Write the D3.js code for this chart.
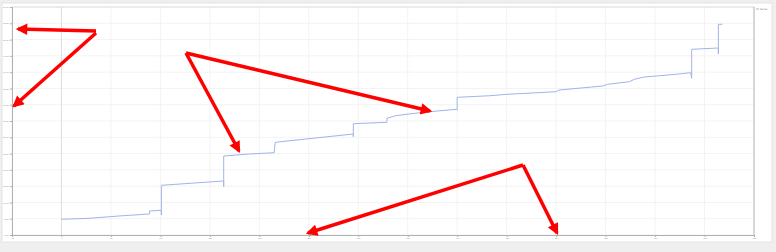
<!DOCTYPE html>
<html>
<head>
<meta charset="utf-8">
<script src="https://cdn.jsdelivr.net/npm/d3@7"></script>
<style>
  body { margin: 0; background: #efefef; }
  svg { display: block; font-family: "DejaVu Sans", sans-serif; }
</style>
</head>
<body>
<div id="chart"></div>
<script>
// step series: [index, value] break points
var seriesX = [0, 28, 58, 89, 89, 101, 101, 101, 164, 164, 164, 190, 215, 216, 295, 295, 295, 329, 329, 338, 357, 369, 399, 400, 400, 433, 450, 500, 503, 547, 552, 574, 579, 589, 621, 636, 637, 637, 664, 664, 664, 668];
var seriesY = [9482, 9513, 9583, 9645, 9737, 9758, 9614, 10526, 10658, 10483, 11425, 11487, 11527, 11846, 12101, 12018, 12417, 12460, 12583, 12663, 12736, 12776, 12859, 12838, 13227, 13276, 13319, 13399, 13451, 13574, 13626, 13706, 13780, 13850, 13933, 13983, 13811, 14701, 14741, 14557, 15468, 15468];
var xTicks = [-50, 0, 50, 100, 150, 200, 250, 300, 350, 400, 450, 500, 550, 600, 650, 700];
var yTicks = [9000, 9500, 10000, 10500, 11000, 11500, 12000, 12500, 13000, 13500, 14000, 14500, 15000, 15500, 16000];
var seriesName = "Series";
// red annotation arrows drawn over the screenshot: [x1, y1, x2, y2]
var arrows = [[96, 31, 18, 29], [96, 33, 14, 106], [186, 53, 239, 151], [186, 53, 430, 111], [523, 165, 308, 233], [523, 165, 557, 233]];

var width = 776, height = 252;
var margin = {left: 12, right: 22, top: 7, bottom: 17};

var svg = d3.select('#chart').append('svg')
    .attr('width', width)
    .attr('height', height);

svg.append('rect')
    .attr('x', 2).attr('y', 3)
    .attr('width', 770).attr('height', 239)
    .attr('fill', '#fff')
    .attr('stroke', '#e4e4e4');

var x = d3.scaleLinear().domain([-50, 700]).range([margin.left, width - margin.right]),
    y = d3.scaleLinear().domain([9000, 16000]).range([height - margin.bottom, margin.top]);

// grid
svg.append('g').selectAll('line')
    .data(yTicks)
    .enter().append('line')
      .attr('x1', x(-50)).attr('x2', x(700))
      .attr('y1', function(d) { return y(d); })
      .attr('y2', function(d) { return y(d); })
      .attr('stroke', '#f3f3f3');

svg.append('g').selectAll('line')
    .data(xTicks)
    .enter().append('line')
      .attr('x1', function(d) { return x(d); })
      .attr('x2', function(d) { return x(d); })
      .attr('y1', y(9000)).attr('y2', y(16000))
      .attr('stroke', function(d) { return d == 0 ? '#dedede' : '#f3f3f3'; });

// frame
svg.append('line')
    .attr('x1', x(-50)).attr('x2', x(700)).attr('y1', y(16000)).attr('y2', y(16000))
    .attr('stroke', '#dddddd');
svg.append('line')
    .attr('x1', x(700)).attr('x2', x(700)).attr('y1', y(16000)).attr('y2', y(9000))
    .attr('stroke', '#b5b5b5');

var xAxis = svg.append('g')
    .attr('transform', 'translate(0,' + y(9000) + ')')
    .call(d3.axisBottom(x).tickValues(xTicks).tickSize(2).tickPadding(1));
var yAxis = svg.append('g')
    .attr('transform', 'translate(' + x(-50) + ',0)')
    .call(d3.axisLeft(y).tickValues(yTicks).tickSize(2).tickPadding(1));

[xAxis, yAxis].forEach(function(a) {
  a.select('.domain').attr('stroke', '#b0b0b0');
  a.selectAll('.tick line').attr('stroke', '#b0b0b0');
  a.selectAll('text').attr('fill', '#888').style('font-size', '2px');
});

// series
var line = d3.line()
    .x(function(d) { return x(d[0]); })
    .y(function(d) { return y(d[1]); });

svg.append('path')
    .datum(d3.zip(seriesX, seriesY))
    .attr('fill', 'none')
    .attr('stroke', '#a2b4e8')
    .attr('stroke-width', 1)
    .attr('d', line);

// legend
svg.append('line')
    .attr('x1', 756).attr('x2', 759).attr('y1', 9).attr('y2', 9)
    .attr('stroke', '#a2b4e8');
svg.append('text')
    .attr('x', 760).attr('y', 9.8)
    .attr('fill', '#777')
    .style('font-size', '2.4px')
    .text(seriesName);

// annotation arrows
svg.append('defs').append('marker')
    .attr('id', 'head')
    .attr('viewBox', '0 0 10 10')
    .attr('refX', 8).attr('refY', 5)
    .attr('markerWidth', 3.6).attr('markerHeight', 3.3)
    .attr('markerUnits', 'strokeWidth')
    .attr('orient', 'auto')
  .append('path')
    .attr('d', 'M0,0L10,5L0,10z')
    .attr('fill', '#f00');

svg.append('g').selectAll('line')
    .data(arrows)
    .enter().append('line')
      .attr('x1', function(d) { return d[0]; })
      .attr('y1', function(d) { return d[1]; })
      .attr('x2', function(d) { return d[2]; })
      .attr('y2', function(d) { return d[3]; })
      .attr('stroke', '#f00')
      .attr('stroke-width', 3.5)
      .attr('marker-end', 'url(#head)');
</script>
</body>
</html>
